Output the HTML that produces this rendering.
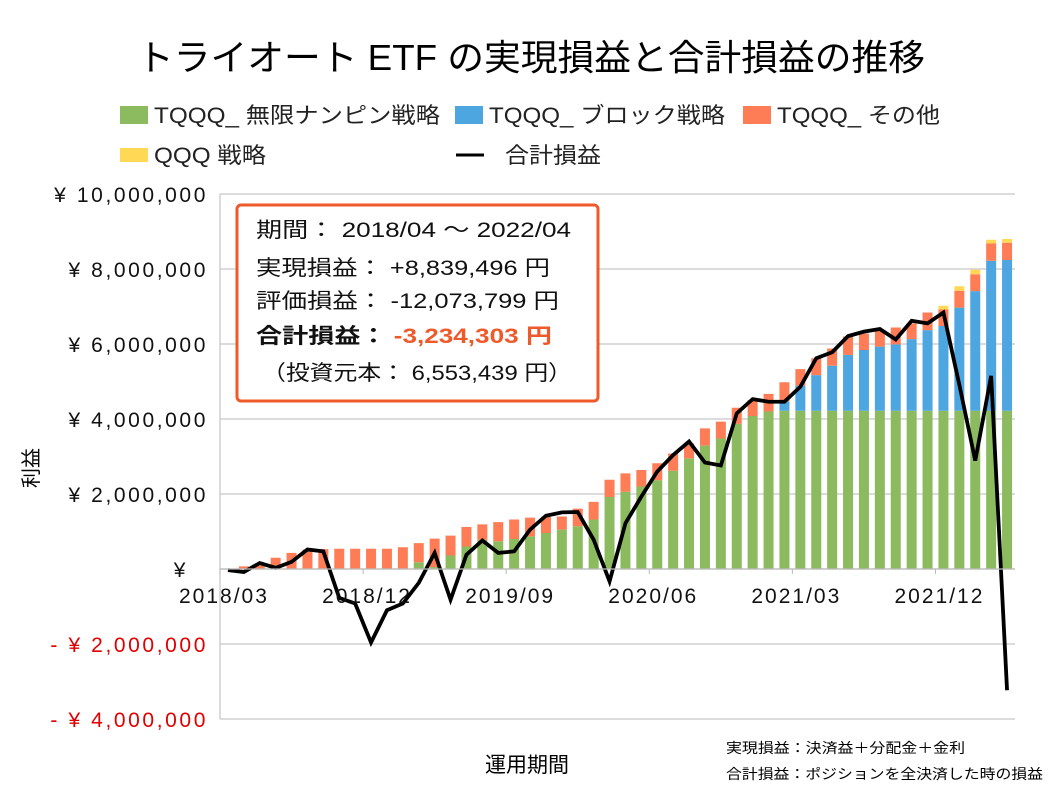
<!DOCTYPE html>
<html><head><meta charset="utf-8"><style>
body{margin:0;background:#fff;}
svg text{font-family:"Liberation Sans","Noto Sans CJK JP",sans-serif;}
</style></head><body>
<svg id="c" width="1058" height="794" viewBox="0 0 1058 794" xmlns="http://www.w3.org/2000/svg">
<rect width="1058" height="794" fill="#fff"/>
<text x="137" y="70" font-size="36" textLength="788" lengthAdjust="spacingAndGlyphs" fill="#000">トライオート ETF の実現損益と合計損益の推移</text>
<g font-size="22" fill="#222">
 <g><rect x="120" y="106" width="28" height="18" fill="#8cbb5f"/><text x="154" y="123" textLength="286" lengthAdjust="spacingAndGlyphs">TQQQ_ 無限ナンピン戦略</text></g>
 <g><rect x="455" y="106" width="28" height="18" fill="#4da6e0"/><text x="489" y="123" textLength="236" lengthAdjust="spacingAndGlyphs">TQQQ_ ブロック戦略</text></g>
 <g><rect x="743" y="106" width="28" height="18" fill="#fe7d56"/><text x="777" y="123" textLength="163" lengthAdjust="spacingAndGlyphs">TQQQ_ その他</text></g>
 <g><rect x="120" y="148" width="28" height="14" fill="#ffd955"/><text x="154" y="163" textLength="112" lengthAdjust="spacingAndGlyphs">QQQ 戦略</text></g>
 <g><line x1="456" y1="155" x2="484" y2="155" stroke="#000" stroke-width="3"/><text x="505" y="163" textLength="96" lengthAdjust="spacingAndGlyphs">合計損益</text></g>
</g>
<g id="grid"></g><g id="bars"></g><g id="line"></g><g id="axes"></g>
<text transform="translate(38,468) rotate(-90)" font-size="20" text-anchor="middle">利益</text>
<text x="527" y="772" font-size="21" text-anchor="middle">運用期間</text>
<text x="726" y="753" font-size="14" textLength="239" lengthAdjust="spacingAndGlyphs">実現損益：決済益＋分配金＋金利</text>
<text x="726" y="779" font-size="14" textLength="317" lengthAdjust="spacingAndGlyphs">合計損益：ポジションを全決済した時の損益</text>
<g>
 <rect x="237" y="205" width="361" height="196" rx="4" fill="#fff" stroke="#ef5a2a" stroke-width="3"/>
 <g font-size="21" fill="#111">
  <text x="256" y="237" textLength="315" lengthAdjust="spacingAndGlyphs">期間： 2018/04 ～ 2022/04</text>
  <text x="256" y="275" textLength="294" lengthAdjust="spacingAndGlyphs">実現損益： +8,839,496 円</text>
  <text x="256" y="308" textLength="303" lengthAdjust="spacingAndGlyphs">評価損益： -12,073,799 円</text>
  <text x="256" y="343" font-weight="bold" textLength="296" lengthAdjust="spacingAndGlyphs">合計損益： <tspan fill="#ef5a2a">-3,234,303 円</tspan></text>
  <text x="262" y="380" textLength="310" lengthAdjust="spacingAndGlyphs">（投資元本： 6,553,439 円）</text>
 </g>
</g>
<script>
const categories=[];for(let y=2018,m=3;categories.length<50;){categories.push(y+'/'+String(m).padStart(2,'0'));m++;if(m>12){m=1;y++;}}
const nanpin=[0,0,0,0,0,0,0,0,0,0,0,0,0.18,0.05,0.36,0.6,0.78,0.74,0.8,0.87,0.96,1.05,1.14,1.32,1.92,2.06,2.2,2.37,2.62,2.95,3.29,3.48,3.87,4.08,4.2,4.22,4.22,4.22,4.22,4.22,4.22,4.22,4.22,4.22,4.22,4.22,4.22,4.22,4.22,4.22];
const block=[0,0,0,0,0,0,0,0,0,0,0,0,0,0,0,0,0,0,0,0,0,0,0,0,0,0,0,0,0,0,0,0,0,0,0,0.25,0.67,0.95,1.2,1.49,1.62,1.71,1.77,1.91,2.15,2.26,2.75,3.19,4.0,4.02];
const other=[0,0.07,0.1,0.3,0.43,0.52,0.53,0.54,0.54,0.54,0.54,0.58,0.51,0.76,0.53,0.52,0.41,0.51,0.52,0.5,0.43,0.35,0.47,0.47,0.46,0.49,0.44,0.45,0.46,0.4,0.46,0.45,0.43,0.42,0.47,0.51,0.44,0.45,0.46,0.49,0.44,0.42,0.45,0.42,0.47,0.44,0.45,0.45,0.46,0.46];
const qqq=[0,0,0,0,0,0,0,0,0,0,0,0,0,0,0,0,0,0,0,0,0,0,0,0,0,0,0,0,0,0,0,0,0,0,0,0,0,0,0,0,0,0,0,0,0,0.1,0.12,0.12,0.1,0.1];
const total=[-0.03,-0.08,0.16,0.03,0.19,0.52,0.47,-0.77,-0.92,-1.96,-1.1,-0.92,-0.37,0.43,-0.82,0.38,0.76,0.43,0.47,1.05,1.42,1.51,1.52,0.78,-0.33,1.22,1.93,2.6,3.04,3.4,2.84,2.76,4.15,4.53,4.46,4.46,4.86,5.62,5.78,6.21,6.33,6.4,6.12,6.62,6.55,6.84,4.91,2.89,5.15,-3.234];
const yTicks=[10,8,6,4,2,0,-2,-4];
const yLabels=['¥ 10,000,000','¥ 8,000,000','¥ 6,000,000','¥ 4,000,000','¥ 2,000,000','¥','- ¥ 2,000,000','- ¥ 4,000,000'];
const xLabelIdx=[0,9,18,27,36,45];
const X0=220,X1=1015,Y0=569,PX=37.5;
const step=(X1-X0)/categories.length;
const xs=i=>X0+step*(i+0.5);
const ys=v=>Y0-v*PX;
const NS='http://www.w3.org/2000/svg';
function mk(tag,attrs,parent){const e=document.createElementNS(NS,tag);for(const k in attrs)e.setAttribute(k,attrs[k]);document.getElementById(parent).appendChild(e);return e;}
yTicks.forEach((t,k)=>{
 const g=mk('line',{x1:X0,x2:X1,y1:ys(t),y2:ys(t),stroke:'#c8c8c8','stroke-width':1.3},'grid');
 
 
 const tx=mk('text',{x:t===0?188:208,y:ys(t)+8,'font-size':21,'letter-spacing':'2.6px','text-anchor':'end',fill:t<0?'#e00000':'#111'},'axes');
 tx.textContent=yLabels[k];
 
 
});
const ax=mk('line',{x1:X0,x2:X0,y1:ys(10),y2:ys(-4),stroke:'#c8c8c8','stroke-width':1.3},'axes');


const xa=mk('line',{x1:X0,x2:X1,y1:Y0,y2:Y0,stroke:'#bbb','stroke-width':1.3},'axes');


xLabelIdx.forEach(i=>{
 const tk=mk('line',{x1:xs(i)-step/2,x2:xs(i)-step/2,y1:Y0,y2:Y0+5,stroke:'#bbb'},'axes');
 
 
 const tx=mk('text',{x:xs(i)-4,y:603,'font-size':21,'letter-spacing':'2px','text-anchor':'middle',fill:'#111'},'axes');
 tx.textContent=categories[i];
 
 
});
const series=[[nanpin,'#8cbb5f','bar-nanpin'],[block,'#4da6e0','bar-block'],[other,'#fe7d56','bar-other'],[qqq,'#ffd955','bar-qqq']];
categories.forEach((c,i)=>{
 let base=0;
 series.forEach(([arr,col,name])=>{
  const v=arr[i];if(v<=0)return;
  const r=mk('rect',{x:xs(i)-5,width:10,y:ys(base+v),height:v*PX,fill:col},'bars');
  
  
  base+=v;
 });
});
const pl=mk('polyline',{points:total.map((v,i)=>xs(i)+','+ys(v)).join(' '),fill:'none',stroke:'#000','stroke-width':3.8,'stroke-linejoin':'miter'},'line');


</script>
</svg>
</body></html>
